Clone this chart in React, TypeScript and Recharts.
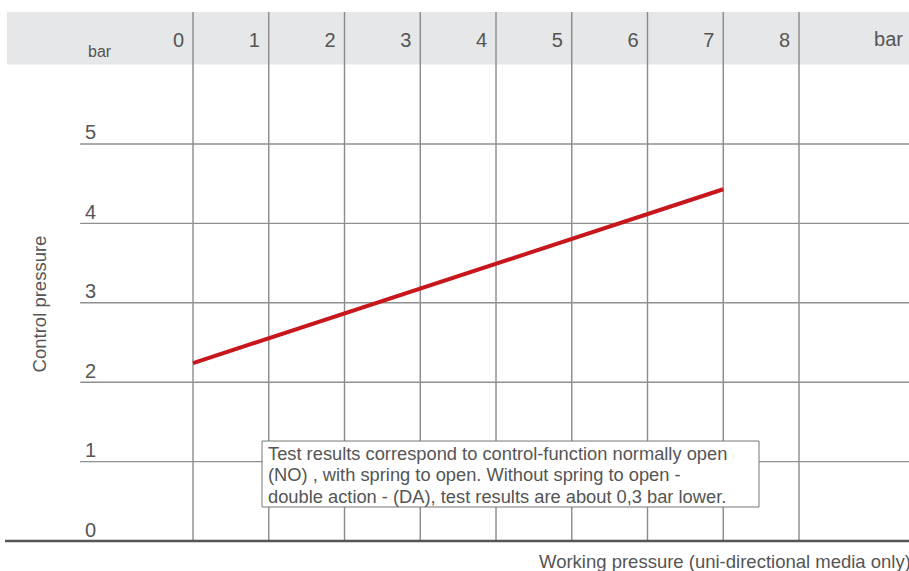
import React from 'react';
import { ComposedChart, Line, XAxis, YAxis, ReferenceLine, ReferenceArea, Customized } from 'recharts';

const xTicks = [0, 1, 2, 3, 4, 5, 6, 7, 8];
const yTicks = [0, 1, 2, 3, 4, 5];
const gridRows = [1, 2, 3, 4, 5];
const workingPressure = [0, 7];
const controlPressure = [2.24, 4.43];
const noteLines = [
  'Test results correspond to control-function normally open',
  '(NO) , with spring to open. Without spring to open -',
  'double action - (DA), test results are about 0,3 bar lower.',
];
const xUnit = 'bar';
const yUnit = 'bar';
const xTitle = 'Working pressure (uni-directional media only)';
const yTitle = 'Control pressure';

const data = workingPressure.map((x, i) => ({ x, y: controlPressure[i] }));

const X_MIN = -2.482;
const X_MAX = 9.452;
const Y_MAX = 6.662;
const FONT = '"Liberation Sans", Arial, Helvetica, sans-serif';
const TEXT = '#555';

const XTick = (props: any) => {
  const { x, payload } = props;
  return (
    <text x={x - 9} y={47} textAnchor="end" fontSize={20} fill={TEXT} fontFamily={FONT}>
      {payload.value}
    </text>
  );
};

const YTick = (props: any) => {
  const { y, payload } = props;
  return (
    <text x={85} y={y - 4.5} textAnchor="start" fontSize={20} fill={TEXT} fontFamily={FONT}>
      {payload.value}
    </text>
  );
};

const BandLabel = () => (
  <g fontFamily={FONT} fill={TEXT}>
    <text x={88} y={57} fontSize={16}>{yUnit}</text>
    <text x={903} y={46} fontSize={20} textAnchor="end">{xUnit}</text>
  </g>
);

const NoteLabel = (props: any) => {
  const vb = props.viewBox || { x: 262, y: 441 };
  return (
    <g fontFamily={FONT} fill={TEXT}>
      {noteLines.map((l, i) => (
        <text key={i} x={vb.x + 6} y={vb.y + 18.5 + i * 21.5} fontSize={18.3}>{l}</text>
      ))}
    </g>
  );
};

const Texts = () => (
  <g fontFamily={FONT} fill={TEXT}>
    <text x={46} y={304} fontSize={18.5} textAnchor="middle" transform="rotate(-90, 46, 304)">{yTitle}</text>
    <text x={539} y={568} fontSize={18.5}>{xTitle}</text>
  </g>
);

export default function App() {
  return (
    <div style={{ position: 'absolute', left: 0, top: 0, width: 909, height: 571, background: '#fff' }}>
      <ComposedChart width={909} height={571} data={data} margin={{ top: 11, right: 0, bottom: 30, left: 4 }}>
        <XAxis
          type="number"
          dataKey="x"
          domain={[X_MIN, X_MAX]}
          ticks={xTicks}
          interval={0}
          orientation="top"
          height={1}
          axisLine={false}
          tickLine={false}
          tick={XTick}
          allowDataOverflow
        />
        <YAxis
          type="number"
          domain={[0, Y_MAX]}
          ticks={yTicks}
          interval={0}
          width={1}
          axisLine={false}
          tickLine={false}
          tick={YTick}
          allowDataOverflow
        />
        <ReferenceArea x1={-2.456} x2={X_MAX} y1={6} y2={Y_MAX} fill="#e6e7e8" fillOpacity={1} stroke="none" ifOverflow="visible" label={<BandLabel />} />
        {xTicks.map((t) => (
          <ReferenceLine key={'v' + t} x={t} stroke="#8a8a8a" strokeWidth={1.4} />
        ))}
        {gridRows.map((t) => (
          <ReferenceLine key={'h' + t} segment={[{ x: -1.49, y: t }, { x: X_MAX, y: t }]} stroke="#8f8f8f" strokeWidth={1.4} />
        ))}
        <ReferenceLine y={0} stroke="#555" strokeWidth={2.6} />
        <ReferenceArea
          x1={0.911}
          x2={7.472}
          y1={0.428}
          y2={1.259}
          fill="#fff"
          fillOpacity={1}
          stroke="#777"
          strokeWidth={1}
          ifOverflow="visible"
          zIndex={450}
          label={<NoteLabel />}
        />
        <Line type="linear" dataKey="y" stroke="#c8161d" strokeWidth={4} dot={false} isAnimationActive={false} />
        <Customized component={Texts} />
      </ComposedChart>
    </div>
  );
}
